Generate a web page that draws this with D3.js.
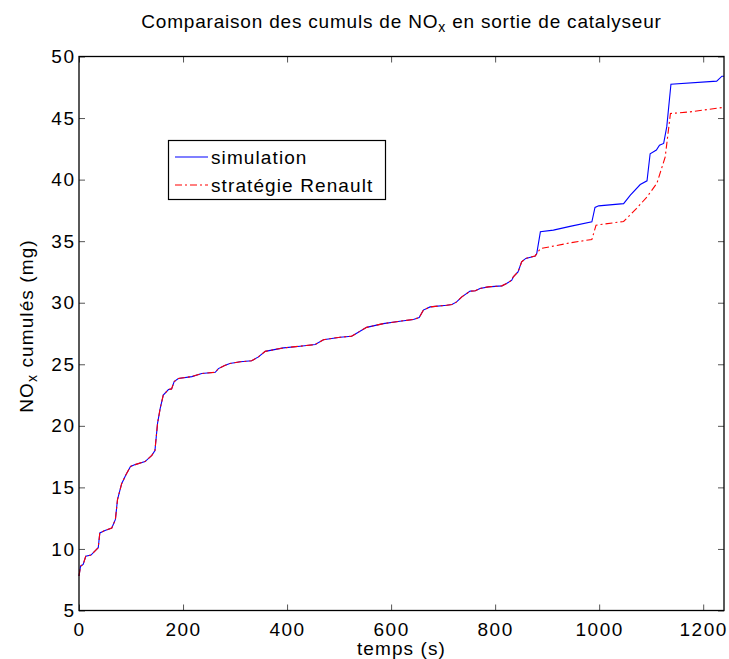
<!DOCTYPE html>
<html><head><meta charset="utf-8">
<script src="https://cdn.jsdelivr.net/npm/d3@7"></script>
<style>body{margin:0;background:#fff;} svg{display:block;} text{font-family:"Liberation Sans",Arial,sans-serif;fill:#000;}</style>
</head><body><svg id="c" width="729" height="659"></svg>
<script>
const xTicks = [0,200,400,600,800,1000,1200];
const yTicks = [5,10,15,20,25,30,35,40,45,50];
const seriesNames = ["simulation","stratégie Renault"];
const tSim = [0,3,8,13,23,30,37,40,50,63,70,74,82,90,99,108,127,140,146,151,156,162,172,178,183,191,217,236,262,268,280,290,310,332,345,358,393,425,454,470,502,524,533,553,585,617,643,654,662,675,707,717,726,736,752,762,771,787,813,822,832,835,844,851,859,877,880,887,912,944,986,992,999,1047,1060,1079,1092,1098,1110,1116,1124,1130,1138,1226,1236,1240];
const simulation = [7.8,8.6,8.75,9.4,9.5,9.8,10.1,11.3,11.5,11.7,12.4,14.0,15.3,16.0,16.7,16.85,17.1,17.6,18.0,20.2,21.4,22.5,22.95,23.0,23.6,23.85,24.0,24.25,24.35,24.65,24.9,25.07,25.2,25.28,25.6,26.05,26.33,26.47,26.6,27.0,27.2,27.28,27.5,28.0,28.3,28.5,28.64,28.8,29.4,29.66,29.8,29.86,30.07,30.48,30.94,30.97,31.16,31.29,31.37,31.56,31.83,32.1,32.5,33.32,33.6,33.8,34.0,35.76,35.9,36.2,36.57,37.74,37.87,38.05,38.74,39.6,39.9,42.1,42.4,42.8,42.94,44.3,47.75,48.0,48.4,48.4];
const tRen = [0,3,8,13,23,30,37,40,50,63,70,74,82,90,99,108,127,140,146,151,156,162,172,178,183,191,217,236,262,268,280,290,310,332,345,358,393,425,454,470,502,524,533,553,585,617,643,654,662,675,707,717,726,736,752,762,771,787,813,822,832,835,844,851,859,877,887,944,986,994,1047,1072,1092,1111,1127,1137,1175,1236,1240];
const renault = [7.8,8.6,8.75,9.4,9.5,9.8,10.1,11.3,11.5,11.7,12.4,14.0,15.3,16.0,16.7,16.85,17.1,17.6,18.0,20.2,21.4,22.5,22.95,23.0,23.6,23.85,24.0,24.25,24.35,24.65,24.9,25.07,25.2,25.28,25.6,26.05,26.33,26.47,26.6,27.0,27.2,27.28,27.5,28.0,28.3,28.5,28.64,28.8,29.4,29.66,29.8,29.86,30.07,30.48,30.94,30.97,31.16,31.29,31.37,31.56,31.83,32.1,32.5,33.32,33.6,33.8,34.4,34.86,35.14,36.3,36.6,37.66,38.6,39.7,41.85,45.37,45.5,45.85,45.95];

const svg = d3.select("#c");
const L=79, R=724, T=56.5, B=610.5;
const x = d3.scaleLinear().domain([0,1240]).range([L,R]);
const y = d3.scaleLinear().domain([5,50]).range([B,T]);
const fs = 19;

const g = svg.append("g");
const line = d3.line().x(d=>x(d[0])).y(d=>y(d[1]));
g.append("path").datum(d3.zip(tSim,simulation)).attr("d",line)
 .attr("fill","none").attr("stroke","#0000ff").attr("stroke-width",1.1);
g.append("path").datum(d3.zip(tRen,renault)).attr("d",line)
 .attr("fill","none").attr("stroke","#ff0000").attr("stroke-width",1.1).attr("stroke-dasharray","7,3,2,3");

// axes
const tl = 6;
const ax = svg.append("g");
ax.append("g").attr("transform",`translate(0,${B})`).call(d3.axisBottom(x).tickValues(xTicks).tickSize(-tl).tickPadding(12).tickFormat(d3.format("d")));
ax.append("g").attr("transform",`translate(0,${T})`).call(d3.axisTop(x).tickValues(xTicks).tickSize(-tl).tickFormat(""));
ax.append("g").attr("transform",`translate(${L},0)`).call(d3.axisLeft(y).tickValues(yTicks).tickSize(-tl).tickPadding(3.5).tickFormat(d3.format("d")));
ax.append("g").attr("transform",`translate(${R},0)`).call(d3.axisRight(y).tickValues(yTicks).tickSize(-tl).tickFormat(""));
ax.selectAll(".domain").remove();
ax.selectAll(".tick line").attr("stroke","#555");
ax.selectAll(".tick text").attr("font-size",fs).attr("letter-spacing",1.5).attr("font-family","Liberation Sans, Arial, sans-serif").attr("fill","#000");
svg.append("rect").attr("x",L).attr("y",T).attr("width",R-L).attr("height",B-T).attr("fill","none").attr("stroke","#000").attr("stroke-width",1.3);

// title
const title = svg.append("text").attr("x",(L+R)/2).attr("y",28).attr("text-anchor","middle").attr("font-size",fs).attr("letter-spacing",0.8);
title.append("tspan").text("Comparaison des cumuls de NO");
title.append("tspan").attr("baseline-shift","-30%").attr("font-size",14).text("x");
title.append("tspan").text(" en sortie de catalyseur");

// x label
svg.append("text").attr("x",(L+R)/2).attr("y",655).attr("text-anchor","middle").attr("font-size",fs).attr("letter-spacing",1.1).text("temps (s)");
// y label
const yl = svg.append("text").attr("transform",`translate(33,326) rotate(-90)`).attr("text-anchor","middle").attr("font-size",fs).attr("letter-spacing",1.1);
yl.append("tspan").text("NO");
yl.append("tspan").attr("baseline-shift","-30%").attr("font-size",14).text("x");
yl.append("tspan").text(" cumulés (mg)");

// legend
const lg = svg.append("g");
lg.append("rect").attr("x",168.5).attr("y",140.5).attr("width",217).attr("height",59).attr("fill","#fff").attr("stroke","#000").attr("stroke-width",1.2);
const styles=[{c:"#0000ff",d:null},{c:"#ff0000",d:"7,3,2,3"}];
seriesNames.forEach((n,i)=>{
  const yy = 157 + i*28;
  lg.append("line").attr("x1",175).attr("x2",208).attr("y1",yy).attr("y2",yy).attr("stroke",styles[i].c).attr("stroke-width",1.1).attr("stroke-dasharray",styles[i].d);
  lg.append("text").attr("x",211).attr("y",yy+6.5).attr("font-size",fs).attr("letter-spacing",1.1).text(n);
});
</script></body></html>
